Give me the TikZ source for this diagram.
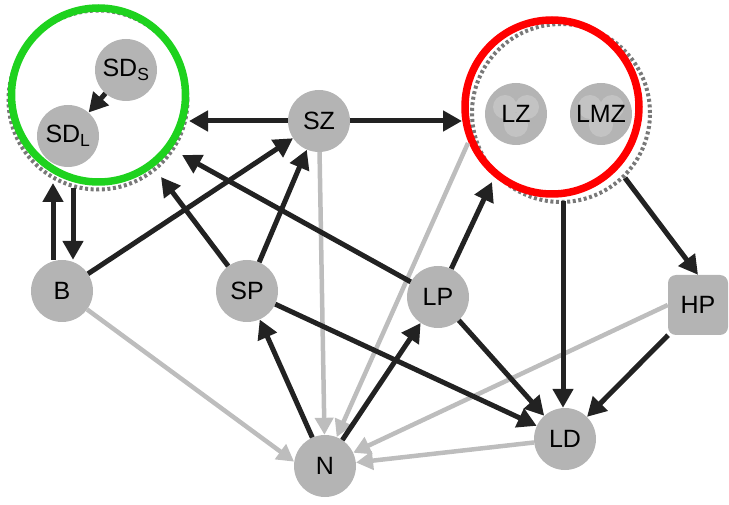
\documentclass[tikz,border=0pt]{standalone}
\usepackage{fontspec}
\setmainfont{Liberation Sans}
\usetikzlibrary{arrows.meta,calc}
\definecolor{nodegray}{HTML}{B4B4B4}
\definecolor{ink}{HTML}{222222}
\definecolor{light}{HTML}{BDBDBD}
\definecolor{dots}{HTML}{787878}
\definecolor{ringgreen}{HTML}{1ED21E}
\definecolor{ringred}{HTML}{FF0000}
\tikzset{cell/.style={circle,fill=nodegray,minimum size=62pt,inner sep=0pt,font=\fontsize{25}{27}\selectfont,text=black},hub/.style={cell,rectangle,rounded corners=8pt,minimum size=60pt},lobed/.style={cell,path picture={\fill[white,opacity=.2] ([shift={(-11pt,7pt)}]path picture bounding box.center) circle[radius=12pt] ([shift={(11pt,7pt)}]path picture bounding box.center) circle[radius=12pt] ([shift={(0pt,-11pt)}]path picture bounding box.center) circle[radius=12pt];}},ring/.style={circle,draw,line width=7.5pt,inner sep=0pt,minimum size=174pt},dotring/.style={circle,draw=dots,line width=4pt,dash pattern=on 3pt off 2.6pt,inner sep=0pt,minimum size=179pt},arr/.style={-{Triangle[length=19pt,width=20pt]},line width=5pt,draw=ink},faint/.style={-{Triangle[length=17pt,width=18pt]},line width=4.5pt,draw=light}}

\begin{document}
\begin{tikzpicture}[x=1pt,y=-1pt]
\useasboundingbox (0,0) rectangle (729,505);
\node[dotring] (sddots) at (98,100) {};
\node[ring,draw=ringgreen] (sdgrp) at (98.5,95) {};
\node[dotring,minimum size=178pt] (ldots) at (561,113) {};
\node[ring,draw=ringred] (lgrp) at (552,107) {};
\node[cell] (sds) at (126,70) {SD\textsubscript{S}};
\node[cell] (sdl) at (68,136) {SD\textsubscript{L}};
\node[lobed] (lz) at (516,114) {LZ};
\node[lobed] (lmz) at (601,114) {LMZ};
\node[cell] (sz) at (319,121) {SZ};
\node[cell] (b) at (62,291) {B};
\node[cell] (sp) at (247,291) {SP};
\node[cell] (lp) at (438,297) {LP};
\node[hub] (hp) at (698,305) {HP};
\node[cell] (n) at (325,466) {N};
\node[cell] (ld) at (565,439) {LD};
\coordinate (gsz) at (189,121);
\coordinate (glp) at (182,155);
\coordinate (gsp) at (161,177);
\coordinate (gup) at (53,183);
\coordinate (gdn) at (73,188);
\coordinate (rsz) at (462,121);
\coordinate (rlp) at (492,182);
\coordinate (rld) at (563,201);
\coordinate (rhp) at (625,178);
\coordinate (rn) at (468,143);
\draw[faint] (sz) -- (n);
\draw[faint] (rn) -- (n.68);
\draw[faint] (b) -- (n.172);
\draw[faint] (hp.west) -- (n);
\draw[faint] (ld) -- (n);
\draw[arr] (sds) -- (sdl);
\draw[arr] (sz) -- (gsz);
\draw[arr] (sz) -- (rsz);
\draw[arr] (b.north -| gup) -- (gup);
\draw[arr] (gdn) -- (b.north -| gdn);
\draw[arr] (b) -- (sz);
\draw[arr] (sp) -- (gsp);
\draw[arr] (sp) -- (sz);
\draw[arr] (sp) -- (ld);
\draw[arr] (lp) -- (glp);
\draw[arr] (lp) -- (rlp);
\draw[arr] (lp) -- (ld);
\draw[arr] (n) -- (sp);
\draw[arr] (n) -- (lp);
\draw[arr] (rld) -- (rld |- ld.north);
\draw[arr] (rhp) -- (hp.north);
\draw[arr] (hp) -- (ld);
\end{tikzpicture}
\end{document}
